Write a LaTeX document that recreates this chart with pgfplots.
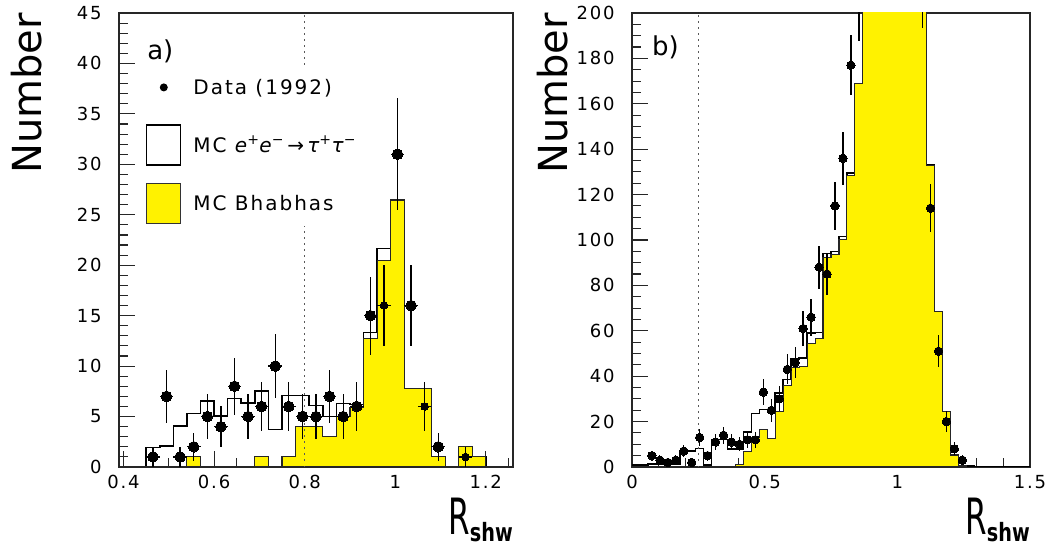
\documentclass[border=0pt]{standalone}
\usepackage{pgfplots}
\pgfplotsset{compat=1.18}
\usepackage{fontspec}
\usepackage{graphicx}
\setmainfont{DejaVu Sans}
\newfontfamily\pawfont[LetterSpace=10]{DejaVu Sans}

\newcommand{\rshw}{\scalebox{0.62}[1]{\fontsize{50bp}{50bp}\selectfont R}\raisebox{-7bp}{\scalebox{0.8}[1.05]{\fontsize{24bp}{24bp}\selectfont\bfseries shw}}}

\pgfplotsset{
  hbook/.style={
    scale only axis,
    height=454bp,
    axis line style={line width=1.2bp, black!85},
    tick align=inside, tick pos=left,
    major tick length=16bp, minor tick length=9bp,
    tick style={line width=1.1bp, black!85},
    /pgf/number format/assume math mode=true,
    tick label style={font=\pawfont\fontsize{18bp}{18bp}\selectfont},
    yticklabel style={xshift=-14bp},
    xticklabel style={yshift=-5bp},
    clip marker paths=true,
    xlabel={\rshw},
    xlabel style={at={(rel axis cs:1,0)}, anchor=north east, yshift=-31bp, inner sep=0pt},
    ylabel={Number},
    ylabel style={font=\fontsize{40bp}{40bp}\selectfont, anchor=south east, inner sep=0pt},
  },
  hist/.style={const plot, line width=1.6bp, black, forget plot},
  bhab/.style={const plot, fill=yellow, draw=black!85, line width=1.1bp, forget plot},
  dotline/.style={black!65, line width=1.2bp, dash pattern=on 1.5bp off 4.5bp, forget plot},
  datapts/.style={only marks, mark=*, mark size=#1, mark options={fill=black, draw=black, line width=0pt}, forget plot,
    error bars/.cd, y dir=both, y explicit, x dir=both, x fixed=0.015, error mark=none,
    error bar style={line width=1.3bp, black}},
}

\begin{document}
\begin{tikzpicture}
\useasboundingbox (0,0) rectangle (1047bp,553bp);

% ---------------- panel a ----------------
\begin{axis}[hbook,
  at={(119bp,86bp)}, anchor=south west, width=394bp,
  xmin=0.39, xmax=1.26, ymin=0, ymax=45,
  xtick={0.4,0.6,0.8,1.0,1.2},
  minor xtick={0.45,0.5,0.55,0.65,0.7,0.75,0.85,0.9,0.95,1.05,1.1,1.15,1.25},
  ytick={0,5,...,45}, minor y tick num=4,
  ylabel style={at={(axis description cs:-0.1955,1)}},
  legend style={at={(axis description cs:0.0685,0.885)}, anchor=north west, draw=none, fill=white,
    inner xsep=0bp, inner ysep=2bp, row sep=17bp, column sep=10bp,
    font=\pawfont\fontsize{20bp}{20bp}\selectfont, cells={anchor=west}},
]
\addlegendimage{legend image code/.code={\path[draw=none, fill=none] (0bp,-20bp) rectangle (34bp,20bp); \fill[black, draw=none] (17bp,0bp) circle (4bp);}}
\addlegendentry{Data (1992)}
\addlegendimage{legend image code/.code={\draw[line width=1.2bp, black, fill=white] (0bp,-20bp) rectangle (34bp,20bp);}}
\addlegendentry{MC {\itshape e}\textsuperscript{+}{\itshape e}\textsuperscript{−}\,→\,{\itshape τ}\textsuperscript{+}{\itshape τ}\textsuperscript{−}}
\addlegendimage{legend image code/.code={\draw[line width=1.2bp, black!80, fill=yellow] (0bp,-20bp) rectangle (34bp,20bp);}}
\addlegendentry{MC Bhabhas}

% MC total (tau + Bhabha)
\addplot[hist] coordinates {
(0.39,0) (0.45,1.95) (0.48,2.08) (0.51,4.06) (0.54,5.3) (0.57,6.57) (0.60,5.05)
(0.63,6.77) (0.66,6.37) (0.69,7.56) (0.72,3.7) (0.75,7.1) (0.78,7.1) (0.81,6.1)
(0.84,5.0) (0.87,6.3) (0.90,6.2) (0.93,13.35) (0.96,21.67) (0.99,26.46) (1.02,7.8)
(1.05,7.8) (1.08,1) (1.11,0) (1.14,2) (1.17,1) (1.20,0) (1.26,0)};
% MC Bhabhas
\addplot[bhab] coordinates {
(0.39,0) (0.54,1) (0.57,0) (0.69,1) (0.72,0) (0.75,1) (0.78,4) (0.81,4) (0.84,3)
(0.87,5) (0.90,5.9) (0.93,12.75) (0.96,20.45) (0.99,26.46) (1.02,7.8) (1.05,7.8)
(1.08,1) (1.11,0) (1.14,2) (1.17,1) (1.20,0) (1.26,0)} \closedcycle;
\addplot[dotline] coordinates {(0.8,0) (0.8,45)};
% data
\addplot[datapts=5.3bp] table[x index=0, y index=1, y error index=2] {
0.465 1 1
0.495 7 2.65
0.525 1 1
0.555 2 1.41
0.585 5 2.24
0.615 4 2
0.645 8 2.83
0.675 5 2.24
0.705 6 2.45
0.735 10 3.16
0.765 6 2.45
0.795 5 2.24
0.825 5 2.24
0.855 7 2.65
0.885 5 2.24
0.915 6 2.45
0.945 15 3.87
1.005 31 5.57
1.035 16 4
1.095 2 1.41
};
\addplot[datapts=3.8bp] table[x index=0, y index=1, y error index=2] {
0.975 16 4
1.065 6 2.45
1.155 1 1
};
\node[anchor=north west, inner sep=0pt, font=\fontsize{26bp}{26bp}\selectfont] at (axis cs:0.452,42.4) {a)};
\end{axis}

% ---------------- panel b ----------------
\begin{axis}[hbook,
  at={(632bp,86bp)}, anchor=south west, width=398bp,
  xmin=0, xmax=1.5, ymin=0, ymax=200,
  xtick={0,0.5,1,1.5}, minor x tick num=4,
  ytick={0,20,...,200}, minor y tick num=3,
  ylabel style={at={(axis description cs:-0.16,1)}},
]
\addplot[hist] coordinates {
(0,0.9) (0.03,0.9) (0.06,1.3) (0.09,1.3) (0.12,1.3) (0.15,1.3) (0.18,7) (0.21,7)
(0.24,8.2) (0.27,1) (0.30,12.2) (0.33,12.2) (0.36,7.8) (0.39,7.8) (0.42,15.3)
(0.45,23.6) (0.48,25.4) (0.51,25.1) (0.54,32.5) (0.57,38.5) (0.60,47.5) (0.63,48)
(0.66,58.9) (0.69,59.3) (0.72,94) (0.75,95) (0.78,101.5) (0.81,129.4) (0.84,169)
(0.87,230) (0.90,280) (0.93,330) (0.96,360) (0.99,350) (1.02,320) (1.05,270)
(1.08,215) (1.11,133) (1.14,68.4) (1.17,24.4) (1.20,5.3) (1.23,0.7) (1.26,0.5)
(1.29,0) (1.5,0)};
\addplot[bhab] coordinates {
(0.39,1) (0.42,7) (0.45,13) (0.48,16.4) (0.51,12.6) (0.54,24.4) (0.57,35.8)
(0.60,44) (0.63,44.4) (0.66,54.6) (0.69,56.8) (0.72,92.1) (0.75,93.6) (0.78,100.4)
(0.81,128.6) (0.84,169) (0.87,230) (0.90,280) (0.93,330) (0.96,360) (0.99,350)
(1.02,320) (1.05,270) (1.08,215) (1.11,133) (1.14,68.4) (1.17,24.4) (1.20,5.3)
(1.23,0.5) (1.26,0)} \closedcycle;
\addplot[dotline] coordinates {(0.25,0) (0.25,200)};
\addplot[datapts=4.2bp] table[x index=0, y index=1, y error index=2] {
0.075 5 2.24
0.105 3 1.73
0.135 2 1.41
0.165 3 1.73
0.195 7 2.65
0.225 2 1.41
0.255 13 3.61
0.285 5 2.24
0.315 11 3.32
0.345 14 3.74
0.375 11 3.32
0.405 10 3.16
0.435 12 3.46
0.465 12 3.46
0.495 33 5.74
0.525 25 5
0.555 30 5.48
0.585 43 6.56
0.615 46 6.78
0.645 61 7.81
0.675 66 8.12
0.705 88 9.38
0.735 85 9.22
0.765 115 10.72
0.795 136 11.66
0.825 177 13.3
0.855 202 14.21
1.095 208 14.42
1.125 114 10.68
1.155 51 7.14
1.185 20 4.47
1.215 8 2.83
1.245 3 1.73
};
\node[anchor=north west, inner sep=0pt, font=\fontsize{26bp}{26bp}\selectfont] at (axis cs:0.075,190) {b)};
\end{axis}
\end{tikzpicture}
\end{document}
